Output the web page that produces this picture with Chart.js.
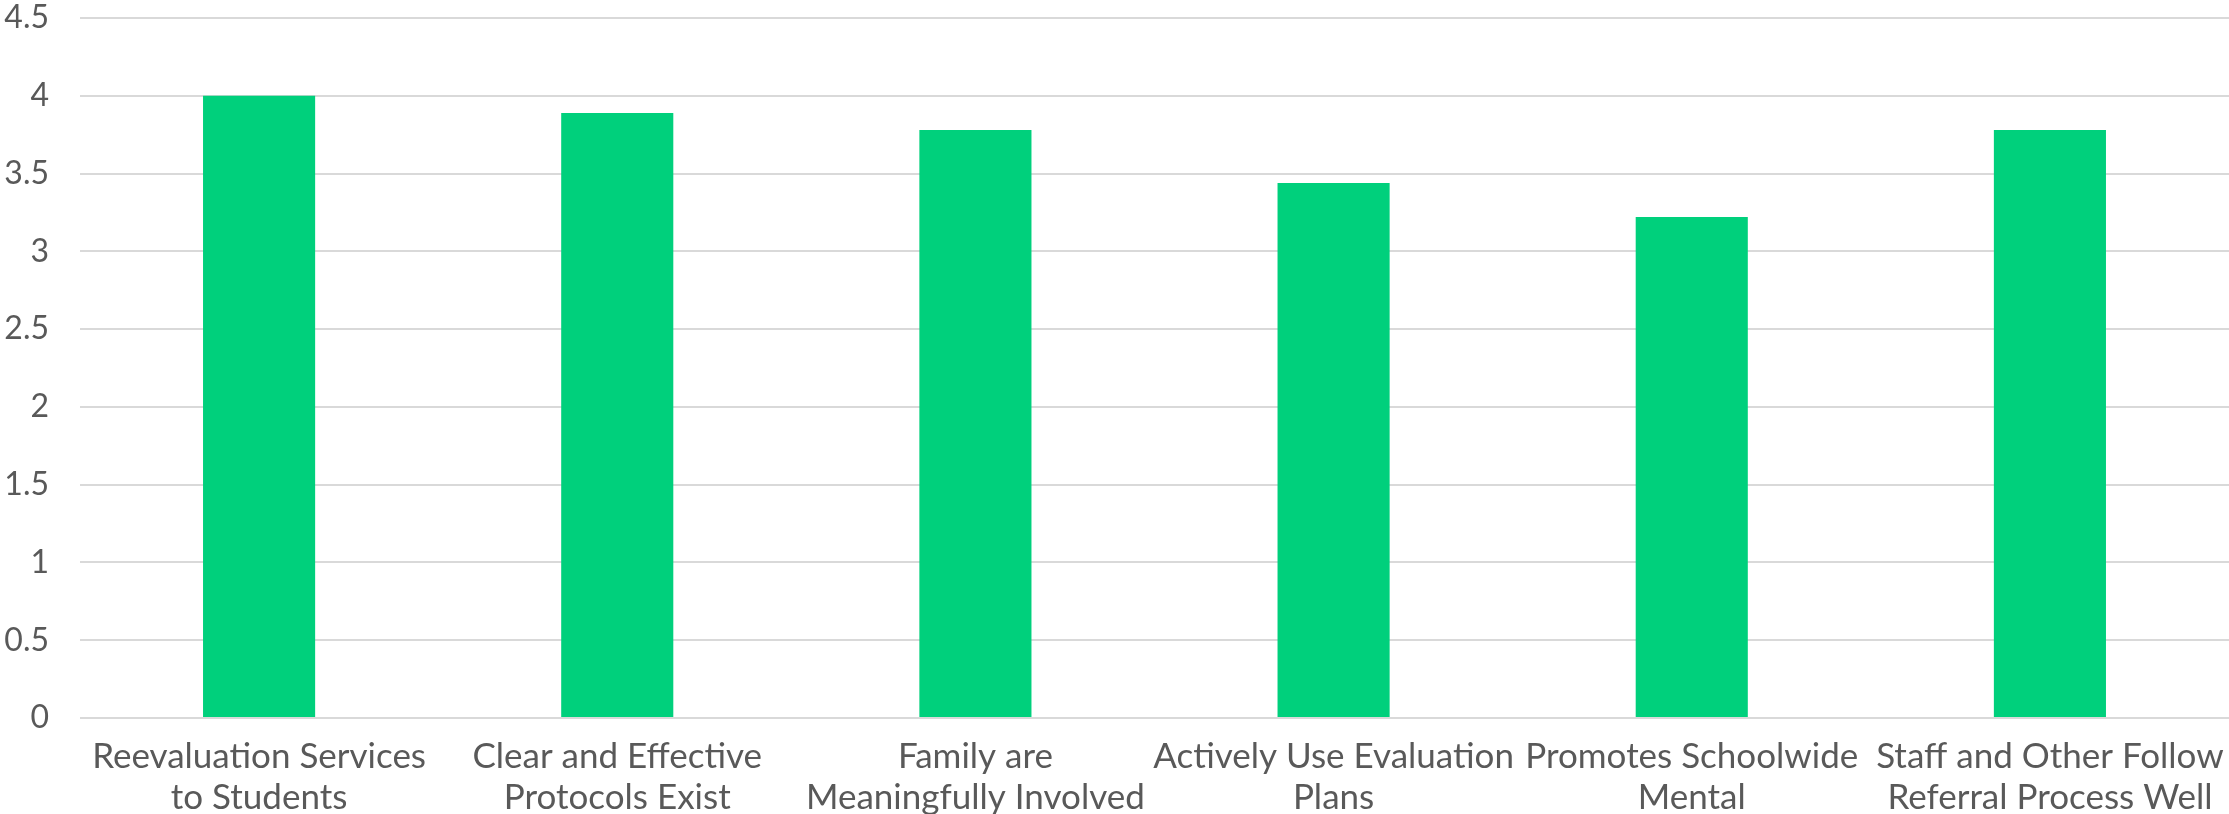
<!DOCTYPE html>
<html>
<head>
    <title>Scores</title>
    <script src="https://cdn.jsdelivr.net/npm/chart.js@4.4.0/dist/chart.umd.min.js"></script>
    <style>
        html, body { margin: 0; padding: 0; background: #fff; }
        .grafico { position: relative; width: 2229px; height: 814px; }
    </style>
</head>
<body>
    <div class="grafico">
        <canvas id="grafico"></canvas>
    </div>

    <script>
        var categorias = [
            ['Reevaluation Services', 'to Students'],
            ['Clear and Effective', 'Protocols Exist'],
            ['Family are', 'Meaningfully Involved'],
            ['Actively Use Evaluation', 'Plans'],
            ['Promotes Schoolwide', 'Mental'],
            ['Staff and Other Follow', 'Referral Process Well']
        ];
        var medias = [4.00, 3.89, 3.78, 3.44, 3.22, 3.78];
        var escalaY = [0, 0.5, 1, 1.5, 2, 2.5, 3, 3.5, 4, 4.5];

        var fonte = 'Lato, "Open Sans", sans-serif';
        var cinza = '#595959';

        var ctx = document.getElementById('grafico').getContext('2d');
        var grafico = new Chart(ctx, {
            type: 'bar',
            data: {
                labels: categorias,
                datasets: [{
                    data: medias,
                    backgroundColor: '#00D07C',
                    borderWidth: 0,
                    categoryPercentage: 1,
                    barPercentage: 0.313
                }]
            },
            options: {
                responsive: true,
                maintainAspectRatio: false,
                animation: false,
                layout: {
                    padding: { top: 18, right: 0, bottom: 0, left: 0 }
                },
                plugins: {
                    legend: { display: false },
                    tooltip: { enabled: false }
                },
                scales: {
                    x: {
                        afterFit: function (scale) {
                            // altura fixa para as duas linhas do rotulo
                            scale.height = 96;
                            scale.paddingLeft = 0;
                            scale.paddingRight = 0;
                        },
                        grid: { display: false, drawTicks: false },
                        border: { display: false },
                        ticks: {
                            color: cinza,
                            font: { family: fonte, size: 35, lineHeight: 1.17 },
                            padding: 18,
                            maxRotation: 0,
                            autoSkip: false
                        }
                    },
                    y: {
                        min: escalaY[0],
                        max: escalaY[escalaY.length - 1],
                        afterBuildTicks: function (scale) {
                            scale.ticks = escalaY.map(function (v) { return { value: v }; });
                        },
                        afterFit: function (scale) {
                            scale.width = 80;
                            scale.paddingTop = 0;
                            scale.paddingBottom = 0;
                        },
                        grid: { color: '#D9D9D9', lineWidth: 2, drawTicks: false },
                        border: { display: false },
                        ticks: {
                            color: cinza,
                            font: { family: fonte, size: 32 },
                            padding: 31,
                            callback: function (v) { return String(v); }
                        }
                    }
                }
            }
        });
    </script>
</body>
</html>
